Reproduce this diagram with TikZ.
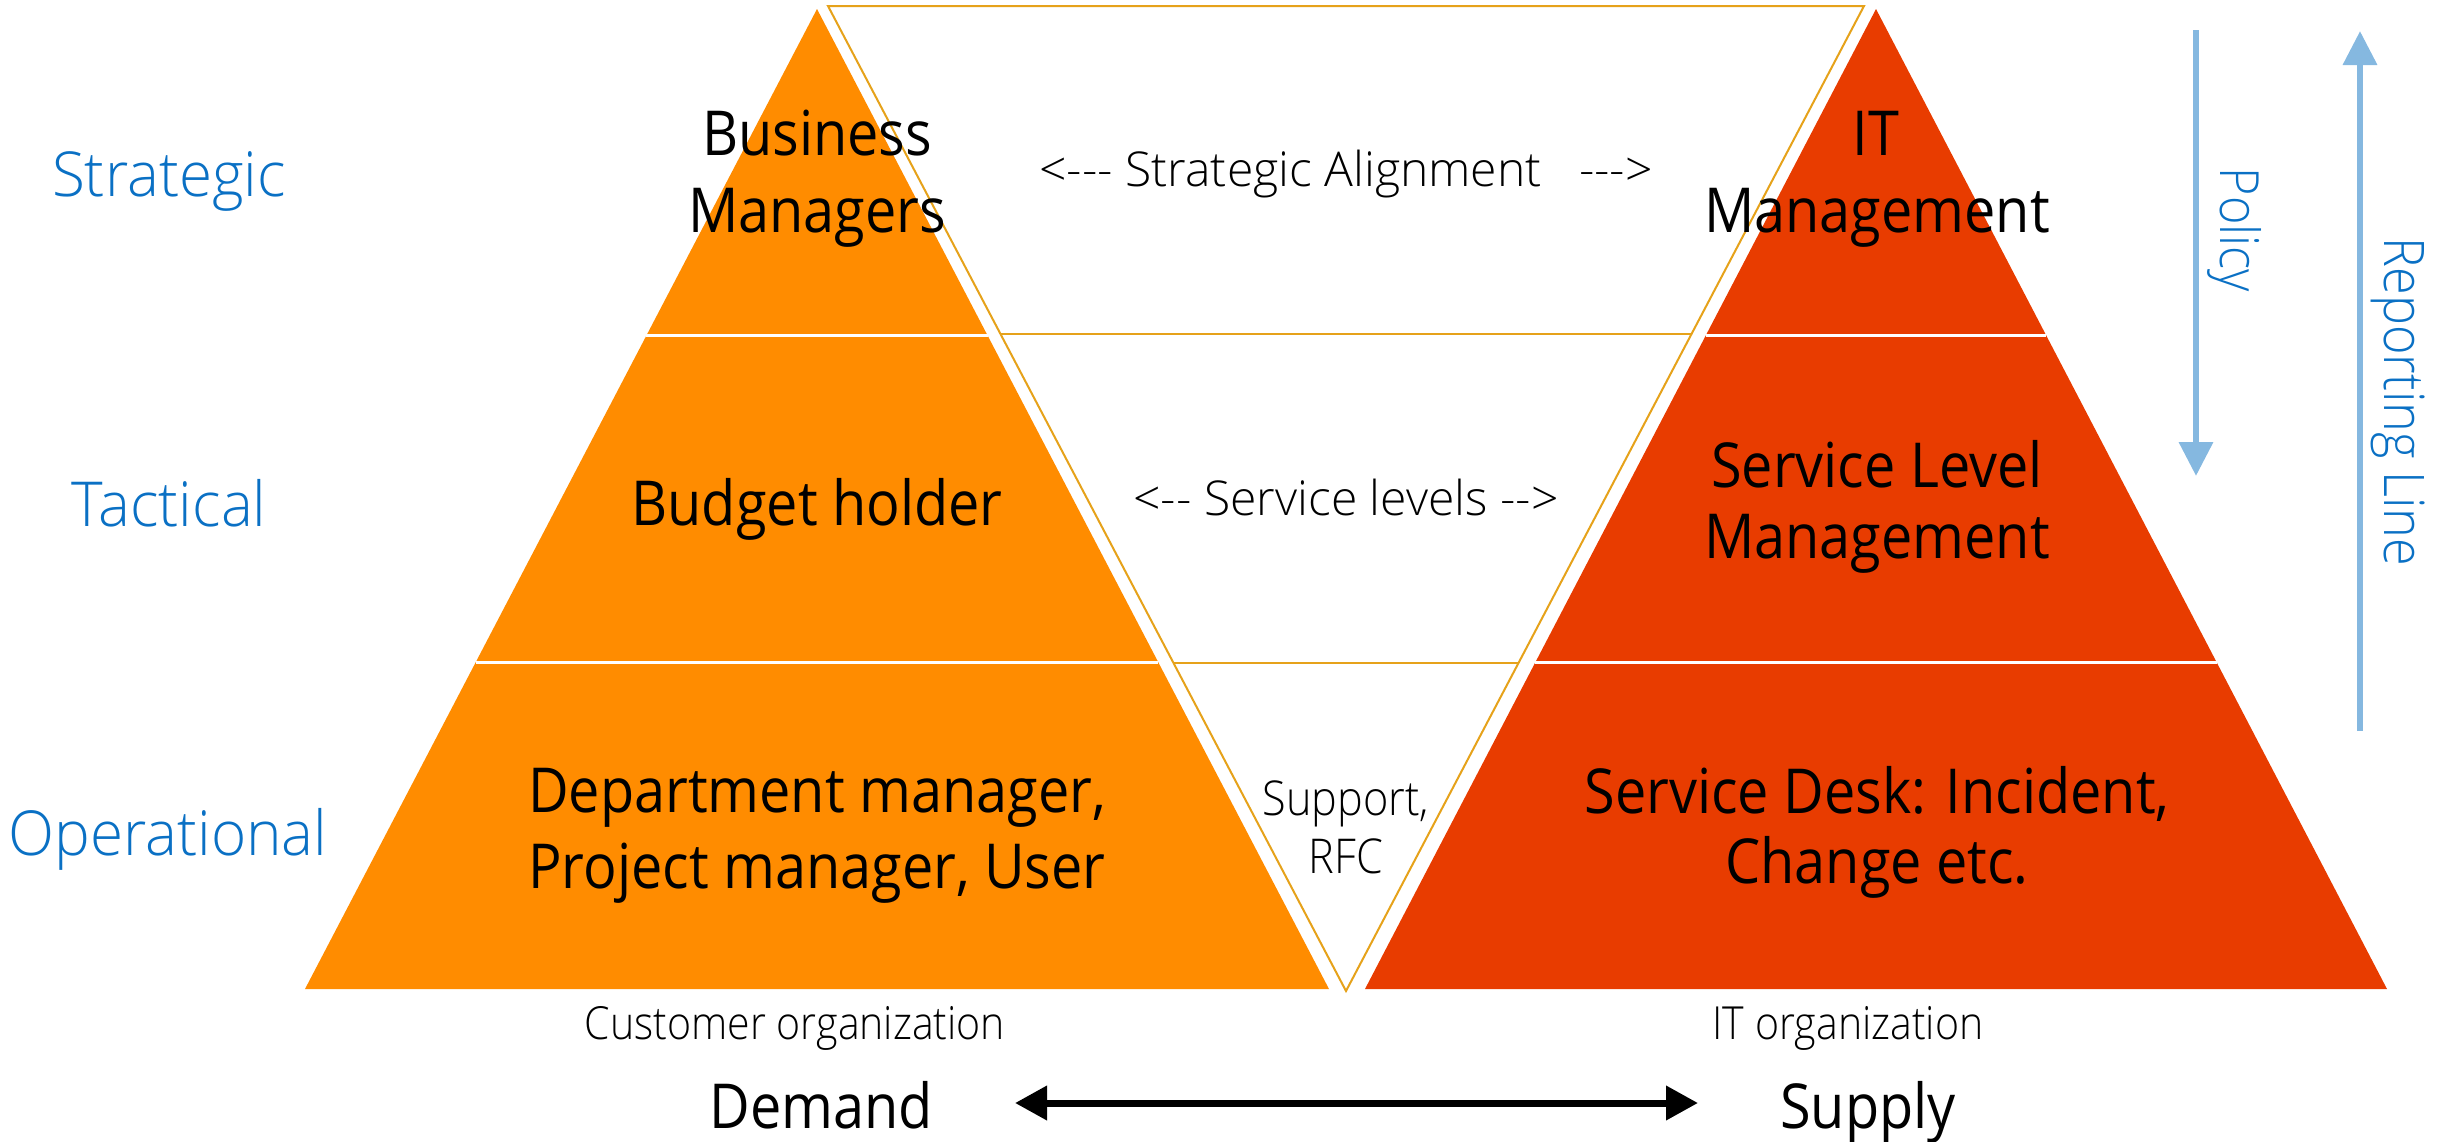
\documentclass[tikz,border=0pt]{standalone}
\usepackage{fontspec}
\setmainfont{Open Sans}[FakeStretch=0.9]
\newfontfamily\lightfont{Open Sans Light}[FakeStretch=0.9]
\newfontfamily\lightside{Open Sans Light}[FakeStretch=0.97]
\newfontfamily\lightwide{Open Sans Light}
\usetikzlibrary{arrows.meta,calc}
\definecolor{lorange}{HTML}{FF8C00}
\definecolor{rred}{HTML}{E83C00}
\definecolor{gold}{HTML}{E6A21A}
\definecolor{tblue}{HTML}{0A70C4}
\definecolor{ablue}{HTML}{85B8E0}
\tikzset{
  big/.style={anchor=base, inner sep=0pt, text=black, font=\fontsize{31}{36}\selectfont},
  midlbl/.style={anchor=base, inner sep=0pt, text=black, font=\lightwide\fontsize{24}{28}\selectfont},
  sidelbl/.style={anchor=base, inner sep=0pt, text=tblue, font=\lightside\fontsize{31}{36}\selectfont},
  orglbl/.style={anchor=base, inner sep=0pt, text=black, font=\lightfont\fontsize{22.8}{27}\selectfont},
  suplbl/.style={anchor=base, inner sep=0pt, text=black, font=\lightfont\fontsize{24}{28}\selectfont},
  dslbl/.style={anchor=base, inner sep=0pt, text=black, font=\fontsize{31}{36}\selectfont},
  vlbl/.style={rotate=-90, inner sep=0pt, text=tblue, font=\lightfont\fontsize{27}{32}\selectfont},
  sep/.style={white, line width=1.5pt},
  goldline/.style={gold, line width=1pt},
  bluearrow/.style={ablue, line width=3.3pt, -{Triangle[length=17pt,width=16.5pt]}},
}
\begin{document}
\begin{tikzpicture}[x=0.5pt,y=-0.5pt]
\useasboundingbox (0,0) rectangle (2448,1141);
% left pyramid
\coordinate (la) at (817,9);
\coordinate (lb) at (305,989);
\coordinate (lc) at (1329,989);
\fill[lorange] (la) -- (lb) -- (lc) -- cycle;
\draw[sep] ($(la)!1/3!(lb)$) -- ($(la)!1/3!(lc)$);
\draw[sep] ($(la)!2/3!(lb)$) -- ($(la)!2/3!(lc)$);
% right pyramid
\coordinate (ra) at (1876,9);
\coordinate (rb) at (1365,989);
\coordinate (rc) at (2387,989);
\fill[rred] (ra) -- (rb) -- (rc) -- cycle;
\draw[sep] ($(ra)!1/3!(rb)$) -- ($(ra)!1/3!(rc)$);
\draw[sep] ($(ra)!2/3!(rb)$) -- ($(ra)!2/3!(rc)$);
% inverted triangle
\coordinate (ya) at (828,6);
\coordinate (yb) at (1864,6);
\coordinate (yc) at (1346,991);
\draw[goldline, fill=white, line join=miter] (ya) -- (yb) -- (yc) -- cycle;
\draw[goldline] ($(ya)!1/3!(yc)$) -- ($(yb)!1/3!(yc)$);
\draw[goldline] ($(ya)!2/3!(yc)$) -- ($(yb)!2/3!(yc)$);
% side labels
\node[sidelbl] (strat) at (169,196) {Strategic};
\node[sidelbl] (tact) at (169,526) {Tactical};
\node[sidelbl] (oper) at (168,855) {Operational};
% left pyramid labels
\node[big] (bm1) at (817,155) {Business};
\node[big] (bm2) at (817,232) {Managers};
\node[big] (bh) at (817,525) {Budget holder};
\node[big] (dm1) at (817,812) {Department manager,};
\node[big] (dm2) at (817,888) {Project manager, User};
% right pyramid labels
\node[big] (it1) at (1876,155) {IT};
\node[big] (it2) at (1877,232) {Management};
\node[big] (slm1) at (1877,487) {Service Level};
\node[big] (slm2) at (1877,558) {Management};
\node[big] (sd1) at (1877,813) {Service Desk: Incident,};
\node[big] (sd2) at (1877,883) {Change etc.};
% middle labels
\node[midlbl] (sa) at (1346,186) {<-{}-{}- Strategic Alignment~~~-{}-{}->};
\node[midlbl] (sl) at (1346,515) {<-{}- Service levels -{}->};
\node[suplbl] (sup1) at (1346,815) {Support,};
\node[suplbl] (sup2) at (1346,873) {RFC};
% bottom
\node[orglbl] (co) at (795,1039) {Customer organization};
\node[orglbl] (ito) at (1848,1039) {IT organization};
\node[dslbl] (dem) at (821,1128) {Demand};
\node[dslbl] (sup) at (1868,1128) {Supply};
\coordinate (da) at (1015,1103);
\coordinate (db) at (1698,1103);
\draw[black, line width=3.5pt, {Triangle[length=16pt,width=16.5pt]}-{Triangle[length=16pt,width=16.5pt]}] (da) -- (db);
% right arrows
\coordinate (p1) at (2196,30);
\coordinate (p2) at (2196,476);
\draw[bluearrow] (p1) -- (p2);
\node[vlbl] (pol) at (2235,230) {Policy};
\coordinate (r1) at (2360,731);
\coordinate (r2) at (2360,31);
\draw[bluearrow] (r1) -- (r2);
\node[vlbl, font=\lightfont\fontsize{28}{33}\selectfont] (rep) at (2398,402) {Reporting Line};
\end{tikzpicture}
\end{document}
